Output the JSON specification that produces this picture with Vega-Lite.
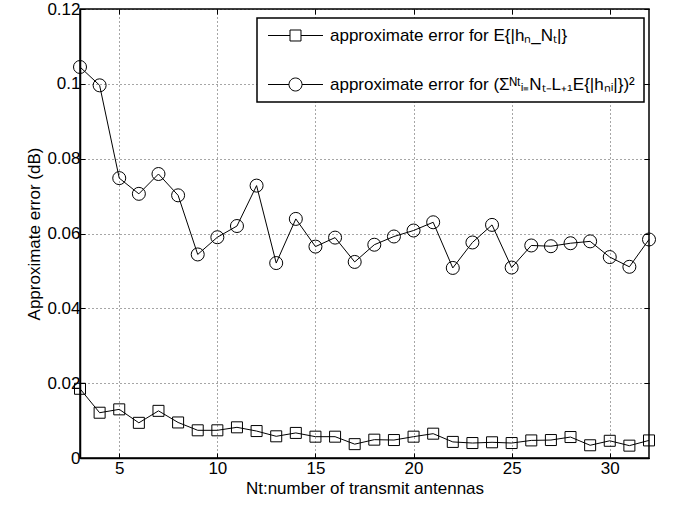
{
  "$schema": "https://vega.github.io/schema/vega-lite/v6.json",
  "width": 569,
  "height": 449,
  "autosize": "none",
  "padding": {"left": 80, "top": 9, "right": 30, "bottom": 50},
  "background": "white",
  "datasets": {
    "d": [
      {"Nt": 3, "series": "E", "error": 0.0185},
      {"Nt": 4, "series": "E", "error": 0.0121},
      {"Nt": 5, "series": "E", "error": 0.0130},
      {"Nt": 6, "series": "E", "error": 0.0094},
      {"Nt": 7, "series": "E", "error": 0.0126},
      {"Nt": 8, "series": "E", "error": 0.0095},
      {"Nt": 9, "series": "E", "error": 0.0074},
      {"Nt": 10, "series": "E", "error": 0.0074},
      {"Nt": 11, "series": "E", "error": 0.0082},
      {"Nt": 12, "series": "E", "error": 0.0072},
      {"Nt": 13, "series": "E", "error": 0.0058},
      {"Nt": 14, "series": "E", "error": 0.0067},
      {"Nt": 15, "series": "E", "error": 0.0057},
      {"Nt": 16, "series": "E", "error": 0.0057},
      {"Nt": 17, "series": "E", "error": 0.0037},
      {"Nt": 18, "series": "E", "error": 0.0049},
      {"Nt": 19, "series": "E", "error": 0.0048},
      {"Nt": 20, "series": "E", "error": 0.0057},
      {"Nt": 21, "series": "E", "error": 0.0065},
      {"Nt": 22, "series": "E", "error": 0.0043},
      {"Nt": 23, "series": "E", "error": 0.0040},
      {"Nt": 24, "series": "E", "error": 0.0042},
      {"Nt": 25, "series": "E", "error": 0.0040},
      {"Nt": 26, "series": "E", "error": 0.0047},
      {"Nt": 27, "series": "E", "error": 0.0048},
      {"Nt": 28, "series": "E", "error": 0.0056},
      {"Nt": 29, "series": "E", "error": 0.0034},
      {"Nt": 30, "series": "E", "error": 0.0046},
      {"Nt": 31, "series": "E", "error": 0.0033},
      {"Nt": 32, "series": "E", "error": 0.0047},
      {"Nt": 3, "series": "S", "error": 0.1045},
      {"Nt": 4, "series": "S", "error": 0.0996},
      {"Nt": 5, "series": "S", "error": 0.0748},
      {"Nt": 6, "series": "S", "error": 0.0706},
      {"Nt": 7, "series": "S", "error": 0.0759},
      {"Nt": 8, "series": "S", "error": 0.0702},
      {"Nt": 9, "series": "S", "error": 0.0544},
      {"Nt": 10, "series": "S", "error": 0.0590},
      {"Nt": 11, "series": "S", "error": 0.0620},
      {"Nt": 12, "series": "S", "error": 0.0728},
      {"Nt": 13, "series": "S", "error": 0.0521},
      {"Nt": 14, "series": "S", "error": 0.0639},
      {"Nt": 15, "series": "S", "error": 0.0565},
      {"Nt": 16, "series": "S", "error": 0.0589},
      {"Nt": 17, "series": "S", "error": 0.0524},
      {"Nt": 18, "series": "S", "error": 0.0570},
      {"Nt": 19, "series": "S", "error": 0.0592},
      {"Nt": 20, "series": "S", "error": 0.0608},
      {"Nt": 21, "series": "S", "error": 0.0630},
      {"Nt": 22, "series": "S", "error": 0.0508},
      {"Nt": 23, "series": "S", "error": 0.0576},
      {"Nt": 24, "series": "S", "error": 0.0623},
      {"Nt": 25, "series": "S", "error": 0.0509},
      {"Nt": 26, "series": "S", "error": 0.0568},
      {"Nt": 27, "series": "S", "error": 0.0566},
      {"Nt": 28, "series": "S", "error": 0.0574},
      {"Nt": 29, "series": "S", "error": 0.0579},
      {"Nt": 30, "series": "S", "error": 0.0537},
      {"Nt": 31, "series": "S", "error": 0.0511},
      {"Nt": 32, "series": "S", "error": 0.0584}
    ]
  },
  "data": {"name": "d"},
  "encoding": {
    "x": {"field": "Nt", "type": "quantitative", "scale": {"domain": [3, 32], "nice": false, "zero": false}},
    "y": {"field": "error", "type": "quantitative", "scale": {"domain": [0, 0.12], "nice": false}}
  },
  "layer": [
    {
      "mark": {"type": "line", "color": "black", "strokeWidth": 1},
      "encoding": {
        "x": {"field": "Nt", "type": "quantitative", "title": "Nt:number of transmit antennas",
          "axis": {"values": [5, 10, 15, 20, 25, 30], "grid": true, "tickSize": -5, "labelPadding": 7, "titlePadding": 4}},
        "y": {"field": "error", "type": "quantitative", "title": "Approximate error (dB)",
          "axis": {"values": [0, 0.02, 0.04, 0.06, 0.08, 0.1, 0.12], "format": ".2~f", "grid": true, "tickSize": -5, "labelPadding": 5, "titlePadding": 3}},
        "detail": {"field": "series"}
      }
    },
    {
      "transform": [{"filter": "datum.series === 'E'"}],
      "mark": {"type": "point", "shape": "square", "filled": false, "color": "black", "size": 121, "strokeWidth": 1, "opacity": 1},
      "encoding": {
        "x": {"field": "Nt", "type": "quantitative", "axis": null},
        "y": {"field": "error", "type": "quantitative", "axis": null}
      }
    },
    {
      "transform": [{"filter": "datum.series === 'S'"}],
      "mark": {"type": "point", "shape": "circle", "filled": false, "color": "black", "size": 169, "strokeWidth": 1, "opacity": 1},
      "encoding": {
        "x": {"field": "Nt", "type": "quantitative", "axis": null},
        "y": {"field": "error", "type": "quantitative", "axis": null}
      }
    },
    {
      "transform": [{"filter": "false"}],
      "mark": {"type": "point", "filled": false, "color": "black", "size": 169, "strokeWidth": 1, "opacity": 1},
      "encoding": {
        "x": {"field": "Nt", "type": "quantitative",
          "axis": {"orient": "top", "values": [5, 10, 15, 20, 25, 30], "labels": false, "grid": false, "domain": false, "tickSize": -5, "title": null}},
        "y": {"field": "error", "type": "quantitative",
          "axis": {"orient": "right", "values": [0, 0.02, 0.04, 0.06, 0.08, 0.1, 0.12], "labels": false, "grid": false, "domain": false, "tickSize": -5, "title": null}},
        "shape": {
          "field": "series", "type": "nominal",
          "scale": {
            "domain": ["E", "S"],
            "range": [
              "M-4.23,0H-0.846M0.846,0H4.23M-0.846,-0.846H0.846V0.846H-0.846Z",
              "M-4.23,0H-1M1,0H4.23M-1,0A1,1,0,1,0,1,0A1,1,0,1,0,-1,0Z"
            ]
          },
          "legend": {
            "title": null,
            "orient": "none",
            "legendX": 177,
            "legendY": 9,
            "labelExpr": "datum.value === 'E' ? 'approximate error for E{|hₙ_Nₜ|}' : 'approximate error for (Σᴺᵗᵢ₌Nₜ₋L₊₁E{|hₙᵢ|})²'"
          }
        }
      }
    }
  ],
  "resolve": {"axis": {"x": "independent", "y": "independent"}},
  "config": {
    "font": "Liberation Sans",
    "view": {"stroke": "black", "strokeWidth": 1.5},
    "axis": {
      "labelFont": "Liberation Sans", "labelFontSize": 17, "labelColor": "black",
      "titleFont": "Liberation Sans", "titleFontSize": 17, "titleFontWeight": "normal", "titleColor": "black",
      "domainColor": "black", "domainWidth": 1.5, "tickColor": "black", "tickWidth": 1,
      "gridColor": "black", "gridDash": [1, 3], "gridOpacity": 0.7, "gridWidth": 1
    },
    "legend": {
      "strokeColor": "black", "strokeWidth": 1.5, "fillColor": "white",
      "padding": 9, "labelFont": "Liberation Sans", "labelFontSize": 17, "labelColor": "black", "labelLimit": 500,
      "symbolStrokeColor": "black", "symbolFillColor": "transparent", "symbolStrokeWidth": 1, "symbolSize": 169,
      "symbolOffset": 21, "labelOffset": 26,
      "rowPadding": 31
    }
  }
}
